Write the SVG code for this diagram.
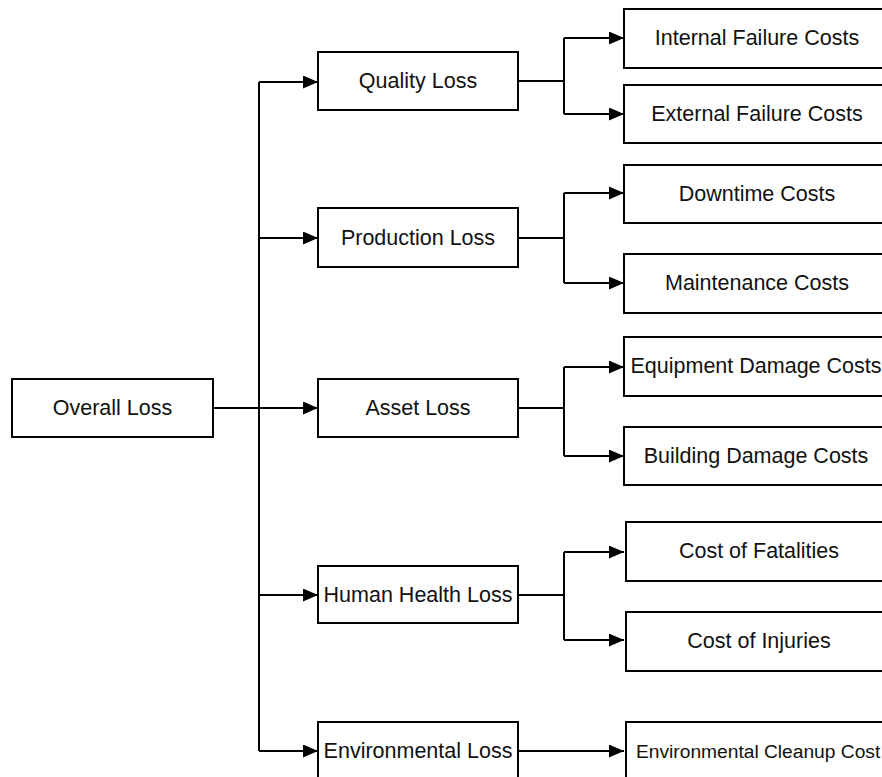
<svg xmlns="http://www.w3.org/2000/svg" width="882" height="777" viewBox="0 0 882 777">
  <style>
    .box { fill: #ffffff; stroke: #000000; stroke-width: 2; }
    .lbl { font-family: "Liberation Sans", Arial, sans-serif; font-size: 21.5px; fill: #111111; text-anchor: middle; dominant-baseline: central; }
    .small { font-size: 19.2px; text-anchor: start; }
    .wire { fill: none; stroke: #000000; stroke-width: 2; }
    .arrow { fill: none; stroke: #000000; stroke-width: 2; marker-end: url(#head); }
  </style>
  <defs>
    <marker id="head" markerUnits="userSpaceOnUse" markerWidth="16" markerHeight="13" refX="15" refY="6.5" orient="auto">
      <path d="M0,0 L15,6.5 L0,13 z" fill="#000000"/>
    </marker>
  </defs>
  <rect width="882" height="777" fill="#ffffff"/>

  <g id="connectors">
    <!-- root to trunk and trunk to each category -->
    <path class="wire" d="M213,408 H259"/>
    <path class="wire" d="M259,82 V751"/>
    <path class="arrow" d="M259,82 H318"/>
    <path class="arrow" d="M259,238 H318"/>
    <path class="arrow" d="M259,408 H318"/>
    <path class="arrow" d="M259,595 H318"/>
    <path class="arrow" d="M259,751 H318"/>
    <!-- quality -->
    <path class="wire" d="M518,81 H564 M564,38 V114"/>
    <path class="arrow" d="M564,38 H624"/>
    <path class="arrow" d="M564,114 H624"/>
    <!-- production -->
    <path class="wire" d="M518,238 H564 M564,193 V283"/>
    <path class="arrow" d="M564,193 H624"/>
    <path class="arrow" d="M564,283 H624"/>
    <!-- asset -->
    <path class="wire" d="M518,408 H564 M564,367 V456"/>
    <path class="arrow" d="M564,367 H624"/>
    <path class="arrow" d="M564,456 H624"/>
    <!-- human health -->
    <path class="wire" d="M518,595 H564 M564,552 V640"/>
    <path class="arrow" d="M564,552 H624"/>
    <path class="arrow" d="M564,640 H624"/>
    <!-- environmental -->
    <path class="arrow" d="M518,751 H624"/>
  </g>

  <g id="overall-loss">
    <rect class="box" x="12" y="379" width="201" height="58"/>
    <text class="lbl" x="112.5" y="408">Overall Loss</text>
  </g>

  <g id="quality-loss">
    <rect class="box" x="318" y="52" width="200" height="58"/>
    <text class="lbl" x="418" y="81">Quality Loss</text>
  </g>
  <g id="production-loss">
    <rect class="box" x="318" y="208" width="200" height="59"/>
    <text class="lbl" x="418" y="238">Production Loss</text>
  </g>
  <g id="asset-loss">
    <rect class="box" x="318" y="379" width="200" height="58"/>
    <text class="lbl" x="418" y="408">Asset Loss</text>
  </g>
  <g id="human-health-loss">
    <rect class="box" x="318" y="566" width="200" height="57"/>
    <text class="lbl" x="418" y="595">Human Health Loss</text>
  </g>
  <g id="environmental-loss">
    <rect class="box" x="318" y="722" width="200" height="60"/>
    <text class="lbl" x="418" y="751">Environmental Loss</text>
  </g>

  <g id="internal-failure-costs">
    <rect class="box" x="624" y="9" width="270" height="59"/>
    <text class="lbl" x="757" y="38">Internal Failure Costs</text>
  </g>
  <g id="external-failure-costs">
    <rect class="box" x="624" y="85" width="270" height="58"/>
    <text class="lbl" x="757" y="114">External Failure Costs</text>
  </g>
  <g id="downtime-costs">
    <rect class="box" x="624" y="165" width="270" height="58"/>
    <text class="lbl" x="757" y="194">Downtime Costs</text>
  </g>
  <g id="maintenance-costs">
    <rect class="box" x="624" y="254" width="270" height="59"/>
    <text class="lbl" x="757" y="283">Maintenance Costs</text>
  </g>
  <g id="equipment-damage-costs">
    <rect class="box" x="624" y="337" width="270" height="59"/>
    <text class="lbl" x="756" y="366">Equipment Damage Costs</text>
  </g>
  <g id="building-damage-costs">
    <rect class="box" x="624" y="427" width="270" height="58"/>
    <text class="lbl" x="756" y="456">Building Damage Costs</text>
  </g>
  <g id="cost-of-fatalities">
    <rect class="box" x="626" y="522" width="270" height="59"/>
    <text class="lbl" x="759" y="551">Cost of Fatalities</text>
  </g>
  <g id="cost-of-injuries">
    <rect class="box" x="626" y="612" width="270" height="59"/>
    <text class="lbl" x="759" y="641">Cost of Injuries</text>
  </g>
  <g id="environmental-cleanup-cost">
    <rect class="box" x="626" y="722" width="270" height="60"/>
    <text class="lbl small" x="636" y="751">Environmental Cleanup Cost</text>
  </g>
</svg>
